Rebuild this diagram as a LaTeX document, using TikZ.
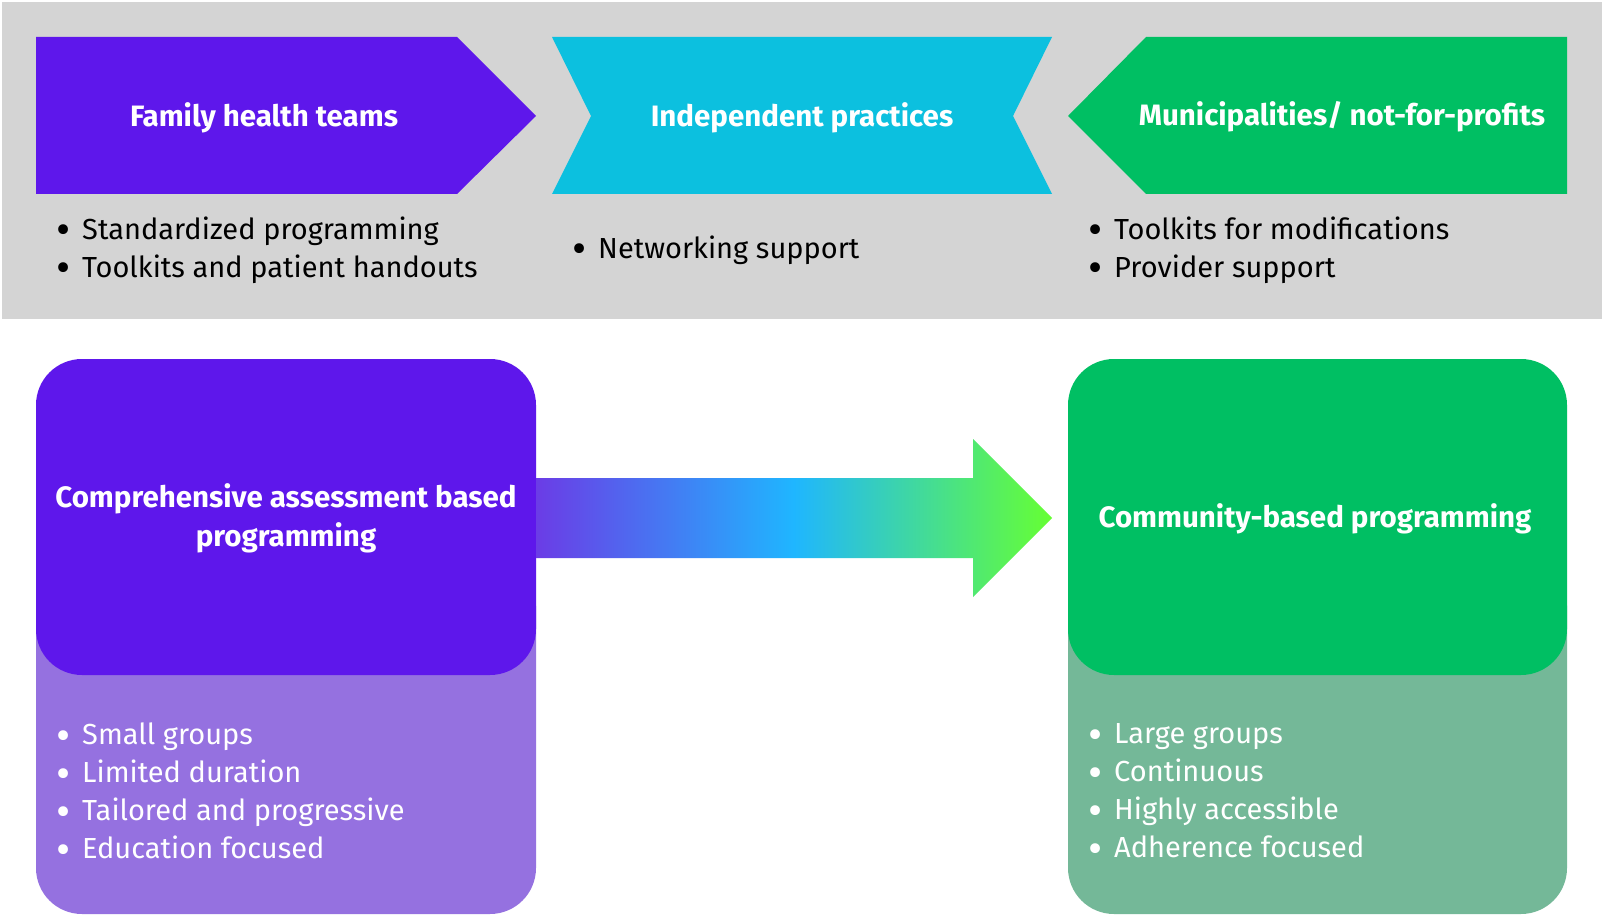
\documentclass[tikz,border=0pt]{standalone}
\usepackage{fontspec}
\setmainfont{Fira Sans}
\usepackage{tikz}
\usetikzlibrary{positioning,calc}
\usepackage{xcolor}

\definecolor{bandgray}{HTML}{D4D4D4}
\definecolor{fhtpurple}{HTML}{5E17EB}
\definecolor{indcyan}{HTML}{0CC0DF}
\definecolor{mungreen}{HTML}{00BF63}
\definecolor{softpurple}{HTML}{9571E0}
\definecolor{softgreen}{HTML}{74B898}
\definecolor{arrowpurple}{HTML}{6B3CE6}
\definecolor{arrowblue}{HTML}{1FB6FF}
\definecolor{arrowgreen}{HTML}{66FF33}

\newcommand{\bul}{\makebox[26pt][l]{\raisebox{-0.19em}[0pt][0pt]{\scalebox{1.5}{\textbullet}}}}

\begin{document}
\begin{tikzpicture}[x=1pt,y=-1pt,every node/.style={font=\fontsize{29}{38}\selectfont},
  title/.style={text=white,font=\fontsize{29.5}{39}\selectfont\bfseries,align=center},
  items/.style={anchor=west,inner sep=0pt,align=left}]
\useasboundingbox (0,0) rectangle (1604,917);
\fill[white] (0,0) rectangle (1604,917);
% top band
\fill[bandgray] (2,2) rectangle (1602,319);
\fill[fhtpurple] (36,37) -- (457,37) -- (536,116) -- (457,194) -- (36,194) -- cycle;
\node[title] (fht) at (264,118) {Family health teams};
\fill[indcyan] (552,37) -- (591,116) -- (552,194) -- (1052,194) -- (1013,116) -- (1052,37) -- cycle;
\node[title] (ind) at (802,118) {Independent practices};
\fill[mungreen] (1068,116) -- (1146,37) -- (1567,37) -- (1567,194) -- (1146,194) -- cycle;
\node[title] (mun) at (1342,117) {Municipalities/ not-for-profits};
\node[items] (fhtlist) at (56,250) {\bul Standardized programming\\\bul Toolkits and patient handouts};
\node[items] (indlist) at (572,250) {\bul Networking support};
\node[items] (munlist) at (1088,250) {\bul Toolkits for modifications\\\bul Provider support};
% bottom boxes
\fill[softpurple,rounded corners=46] (36,560) rectangle (536,914);
\fill[fhtpurple,rounded corners=46] (36,359) rectangle (536,675);
\node[title] (comp) at (286,518) {Comprehensive assessment based\\programming};
\fill[softgreen,rounded corners=46] (1068,560) rectangle (1567,914);
\fill[mungreen,rounded corners=46] (1068,359) rectangle (1567,675);
\node[title] (comm) at (1315,519) {Community-based programming};
\node[items,text=white] (complist) at (56,791) {\bul Small groups\\\bul Limited duration\\\bul Tailored and progressive\\\bul Education focused};
\node[items,text=white] (commlist) at (1088,791) {\bul Large groups\\\bul Continuous\\\bul Highly accessible\\\bul Adherence focused};
% gradient arrow
\shade[left color=arrowpurple,right color=arrowgreen,middle color=arrowblue]
  (536,478) -- (973,478) -- (973,439) -- (1052,518) -- (973,597) -- (973,558) -- (536,558) -- cycle;
\end{tikzpicture}
\end{document}
